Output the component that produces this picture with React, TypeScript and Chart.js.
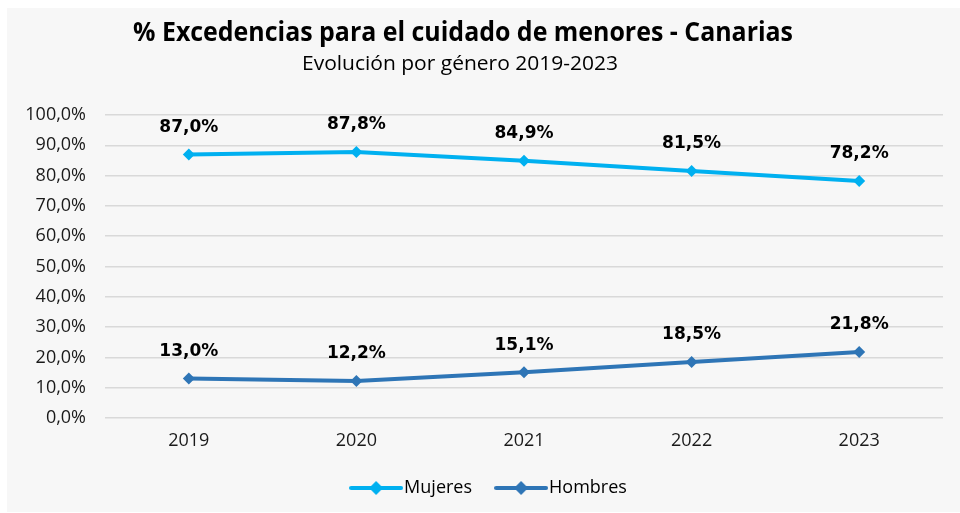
import React, { useEffect, useRef } from "react";
import { Chart, registerables } from "chart.js";

Chart.register(...registerables);

const years = ["2019", "2020", "2021", "2022", "2023"];
const mujeres = [87.0, 87.8, 84.9, 81.5, 78.2];
const hombres = [13.0, 12.2, 15.1, 18.5, 21.8];
const seriesNames = ["Mujeres", "Hombres"];
const seriesColors = ["#00b0f0", "#2e75b6"];
const titleText = "% Excedencias para el cuidado de menores - Canarias";
const subtitleText = "Evolución por género 2019-2023";

const fmt = (v: number) => v.toFixed(1).replace(".", ",") + "%";

function legendImage(color: string): HTMLCanvasElement {
  const c = document.createElement("canvas");
  c.width = 54;
  c.height = 16;
  const ctx = c.getContext("2d")!;
  ctx.strokeStyle = color;
  ctx.lineWidth = 4;
  ctx.lineCap = "round";
  ctx.beginPath();
  ctx.moveTo(2, 8);
  ctx.lineTo(52, 8);
  ctx.stroke();
  ctx.fillStyle = color;
  ctx.beginPath();
  ctx.moveTo(27, 1);
  ctx.lineTo(34, 8);
  ctx.lineTo(27, 15);
  ctx.lineTo(20, 8);
  ctx.closePath();
  ctx.fill();
  return c;
}

const titlePlugin = {
  id: "customTitle",
  afterDraw(chart: any) {
    const ctx = chart.ctx;
    const drawFit = (text: string, font: string, cx: number, cy: number, w: number) => {
      ctx.save();
      ctx.font = font;
      ctx.fillStyle = "#000";
      ctx.textBaseline = "middle";
      ctx.textAlign = "center";
      const m = ctx.measureText(text).width;
      ctx.translate(cx, cy);
      ctx.scale(w / m, 1);
      ctx.fillText(text, 0, 0);
      ctx.restore();
    };
    drawFit(titleText, "bold 26px 'Open Sans'", 456, 26, 660);
    drawFit(subtitleText, "20px 'Open Sans'", 453, 56, 316);
  },
};

const labelPlugin = {
  id: "pointLabels",
  afterDatasetsDraw(chart: any) {
    const ctx = chart.ctx;
    ctx.save();
    ctx.font = "bold 17px 'DejaVu Sans'";
    ctx.fillStyle = "#000";
    ctx.textAlign = "center";
    ctx.textBaseline = "middle";
    chart.data.datasets.forEach((ds: any, i: number) => {
      const meta = chart.getDatasetMeta(i);
      meta.data.forEach((pt: any, j: number) => {
        ctx.fillText(fmt(ds.data[j]), pt.x, pt.y - 27);
      });
    });
    ctx.restore();
  },
};

export default function App() {
  const ref = useRef<HTMLCanvasElement>(null);
  useEffect(() => {
    const imgs = seriesColors.map(legendImage);
    const chart = new Chart(ref.current!, {
      type: "line",
      data: {
        labels: years,
        datasets: [mujeres, hombres].map((d, i) => ({
          label: seriesNames[i],
          data: d,
          borderColor: seriesColors[i],
          backgroundColor: seriesColors[i],
          borderWidth: 4,
          pointStyle: "rectRot",
          pointRadius: 6,
          pointBorderWidth: 0,
          tension: 0,
        })),
      },
      options: {
        animation: false,
        responsive: false,
        layout: { padding: { top: 107, left: 34, right: 17, bottom: 5 } },
        plugins: {
          title: { display: false },
          tooltip: { enabled: false },
          legend: {
            position: "bottom",
            labels: {
              usePointStyle: true,
              pointStyleWidth: 38,
              boxHeight: 16,
              padding: 16,
              color: "#1a1a1a",
              font: { family: "'Open Sans'", size: 18 },
              generateLabels: (ch: any) =>
                ch.data.datasets.map((ds: any, i: number) => ({
                  text: i === 0 ? ds.label + "   " : ds.label,
                  pointStyle: imgs[i],
                  fillStyle: seriesColors[i],
                  strokeStyle: seriesColors[i],
                  lineWidth: 0,
                  hidden: false,
                  datasetIndex: i,
                })),
            },
          },
        },
        scales: {
          x: {
            offset: true,
            grid: { display: false },
            border: { display: false },
            ticks: { color: "#1a1a1a", font: { family: "'Open Sans'", size: 18 }, padding: 4 },
            afterFit: (s: any) => {
              s.height = 45;
            },
          },
          y: {
            min: 0,
            max: 100,
            ticks: {
              stepSize: 10,
              padding: 19,
              color: "#1a1a1a",
              font: { family: "'Open Sans'", size: 18 },
              callback: (v: any) => fmt(Number(v)),
            },
            grid: { color: "#d9d9d9", lineWidth: 1.5, drawTicks: false },
            border: { display: false },
            afterFit: (s: any) => {
              s.width = 64;
              s._computeLabelArea = () => undefined;
            },
          },
        },
      },
      plugins: [titlePlugin, labelPlugin],
    });
    return () => chart.destroy();
  }, []);
  return (
    <div style={{ position: "absolute", left: 7, top: 8, width: 953, height: 504, background: "#f7f7f7" }}>
      <canvas ref={ref} width={953} height={504} style={{ display: "block" }} />
    </div>
  );
}
